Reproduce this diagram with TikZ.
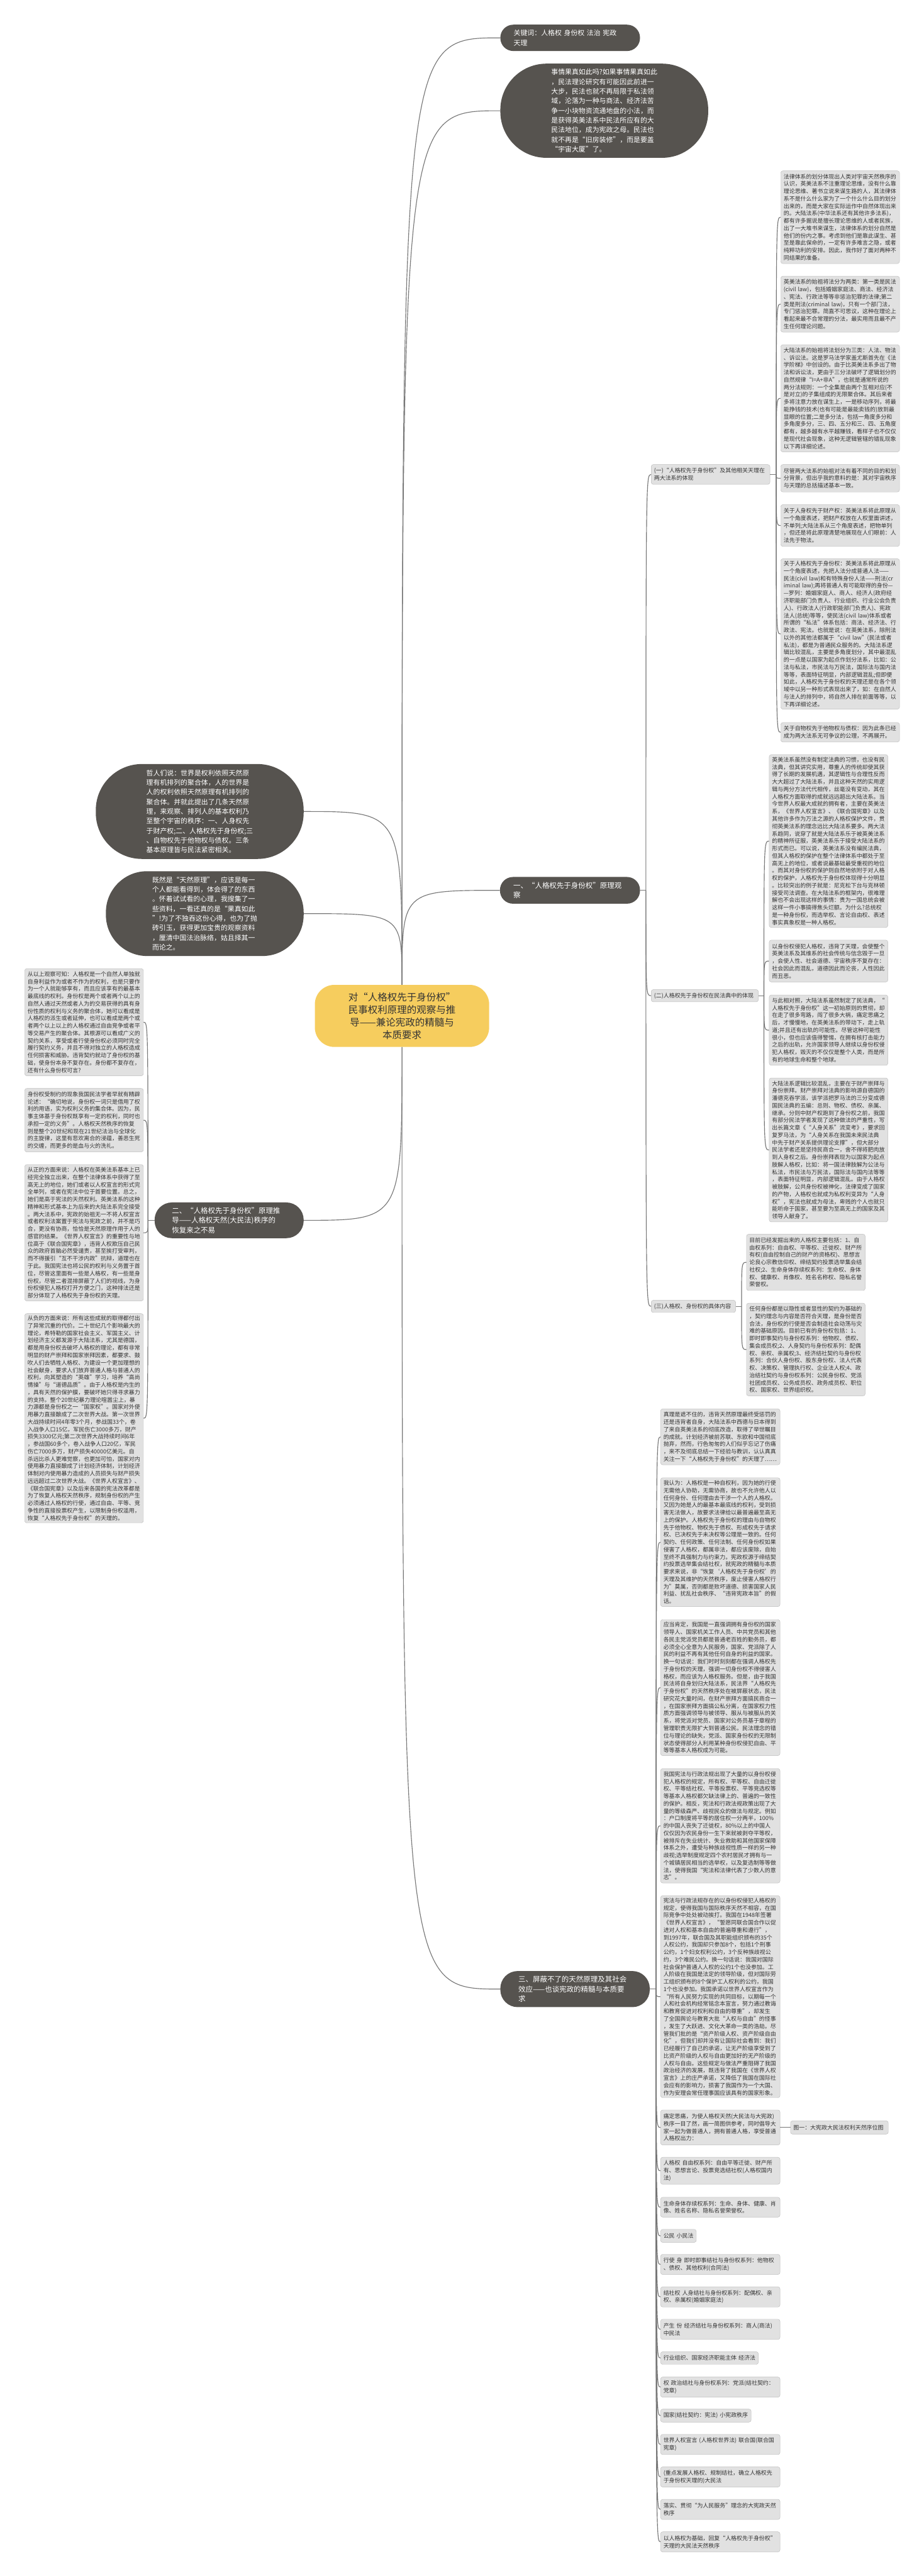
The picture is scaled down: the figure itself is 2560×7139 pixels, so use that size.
\documentclass[tikz,border=0pt]{standalone}
\usepackage{fontspec}
\setmainfont{Noto Sans CJK SC}
\definecolor{linec}{HTML}{777777}
\definecolor{boxfill}{HTML}{E1E1E1}
\definecolor{boxline}{HTML}{BDBDBD}
\definecolor{bubc}{HTML}{56534F}
\definecolor{cyel}{HTML}{F6CD5E}
\definecolor{txt}{HTML}{333333}
\tikzset{
  blk/.style={anchor=north west, rectangle, rounded corners=3pt, fill=boxfill, draw=boxline, line width=0.4pt,
    inner xsep=4pt, inner ysep=2pt, text width=156.5pt, align=left, text=txt,
    font=\fontsize{7.8pt}{10.25pt}\selectfont},
  bubble/.style={anchor=north west, rectangle, fill=bubc, text=white, align=left, inner sep=0pt,
    font=\fontsize{9.5pt}{13.35pt}\selectfont},
  branch/.style={anchor=north west, rectangle, fill=bubc, text=white, align=left,
    font=\fontsize{10pt}{13.5pt}\selectfont},
  conn/.style={draw=linec, line width=1pt},
}
\begin{document}
\begin{tikzpicture}[x=0.5pt,y=-0.5pt]
\useasboundingbox (0,0) rectangle (2560,7139);

% ---------- central ----------
\node[anchor=north west, rectangle, rounded corners=27pt, fill=cyel, text=txt, align=center,
  minimum width=241.5pt, minimum height=86pt, font=\fontsize{13.5pt}{17.5pt}\selectfont] (c) at (872,2729)
  {对“人格权先于身份权”\\民事权利原理的观察与推\\导——兼论宪政的精髓与\\本质要求};

% ---------- top ----------
\node[bubble, minimum width=193.5pt, minimum height=36.5pt, rounded corners=18pt, inner xsep=18.5pt, text width=156.5pt] (kw) at (1386,68)
  {关键词：人格权~身份权~法治~宪政\\天理};
\node[bubble, minimum width=288pt, minimum height=130.5pt, rounded corners=64pt] (b2) at (1386,176)
  {事情果真如此吗?如果事情果真如此\\
  ，民法理论研究有可能因此前进一\\
  大步，民法也就不再局限于私法领\\
  域，沦落为一种与商法、经济法苦\\
  争一小块物资流通地盘的小法，而\\
  是获得英美法系中民法所应有的大\\
  民法地位，成为宪政之母。民法也\\
  就不再是“旧房装修”，而是要盖\\
  “宇宙大厦”了。};

% ---------- left bubbles ----------
\node[bubble, minimum width=288pt, minimum height=131.5pt, rounded corners=64pt] (L1) at (265,2117)
  {哲人们说：世界是权利依照天然原\\
  理有机排列的聚合体，人的世界是\\
  人的权利依照天然原理有机排列的\\
  聚合体。并就此提出了几条天然原\\
  理，来观察、排列人的基本权利乃\\
  至整个宇宙的秩序：一、人身权先\\
  于财产权;二、人格权先于身份权;三\\
  、自物权先于他物权与债权。三条\\
  基本原理皆与民法紧密相关。};
\node[bubble, minimum width=274pt, minimum height=117.5pt, rounded corners=57pt] (L2) at (293,2414)
  {既然是“天然原理”，应该是每一\\
  个人都能看得到，体会得了的东西\\
  。怀着试试看的心理，我搜集了一\\
  些资料，一看还真的是“果真如此\\
  ”!为了不独吞这份心得，也为了抛\\
  砖引玉，获得更加宝贵的观察资料\\
  ，厘清中国法治脉络，姑且择其一\\
  而论之。};

% ---------- branches ----------
\node[branch, minimum width=194pt, minimum height=37pt, rounded corners=18pt, inner xsep=18.5pt, text width=157pt] (n1) at (1385,2430)
  {一、“人格权先于身份权”原理观\\察};
\node[branch, minimum width=206.5pt, minimum height=49.5pt, rounded corners=24pt, inner xsep=24pt, text width=158.5pt] (n2) at (428,3332)
  {二、“人格权先于身份权”原理推\\导——人格权天然(大民法)秩序的\\恢复来之不易};
\node[branch, minimum width=207pt, minimum height=50pt, rounded corners=24pt, inner xsep=25pt, text width=157pt] (n3) at (1386,5462)
  {三、屏蔽不了的天然原理及其社会\\效应——也谈宪政的精髓与本质要\\求};

% ---------- sub labels ----------
\node[blk, minimum height=27.5pt] (s1) at (1804,1287)
  {(一)“人格权先于身份权”及其他相关天理在\\两大法系的体现};
\node[blk, text width=140.5pt, minimum height=17pt] (s2) at (1804,2742)
  {(二)人格权先于身份权在民法典中的体现};
\node[blk, text width=109pt, minimum height=17pt] (s3) at (1804,3603)
  {(三)人格权、身份权的具体内容};

% ---------- (一) children ----------
\node[blk, minimum height=128.5pt] (rA) at (2163,473)
  {法律体系的划分体现出人类对宇宙天然秩序的\\
  认识，英美法系不注重理论思维，没有什么靠\\
  理论思维、著书立说来谋生路的人，其法律体\\
  系不是什么什么家为了一个什么什么目的划分\\
  出来的，而是大家在实际运作中自然体现出来\\
  的。大陆法系(中华法系还有其他许多法系)，\\
  都有许多据说是擅长理论思维的人或者民族，\\
  出了一大堆书来谋生，法律体系的划分自然是\\
  他们的份内之事。考虑到他们是靠此谋生、甚\\
  至是靠此保命的，一定有许多难言之隐，或者\\
  纯粹功利的安排。因此，我作好了面对两种不\\
  同结果的准备。};
\node[blk, minimum height=77.5pt] (rB) at (2163,765)
  {英美法系的始祖将法分为两类：第一类是民法\\
  (civil~law)，包括婚姻家庭法、商法、经济法\\
  、宪法、行政法等等非惩治犯罪的法律;第二\\
  类是刑法(criminal~law)，只有一个部门法，\\
  专门惩治犯罪。简直不可思议，这种在理论上\\
  看起来最不合常理的分法，最实用而且最不产\\
  生任何理论问题。};
\node[blk, minimum height=148.5pt] (rC) at (2163,955)
  {大陆法系的始祖将法划分为三类：人法、物法\\
  、诉讼法。这是罗马法学家盖尤斯首先在《法\\
  学阶梯》中创设的。由于比英美法系多出了物\\
  法和诉讼法，更由于三分法破坏了逻辑划分的\\
  自然规律“I=A+非A”，也就是通常所说的\\
  两分法规则：一个全集是由两个互相对应(不\\
  是对立)的子集组成的无限聚合体。其后来者\\
  多将注意力放在谋生上，一是移动序列，将最\\
  能挣钱的技术(也有可能是最能卖钱的)放到最\\
  显眼的位置;二是多分法，包括一角度多分和\\
  多角度多分，三、四、五分和三、四、五角度\\
  都有，越多越有水平越赚钱，看样子也不仅仅\\
  是现代社会现象，这种无逻辑管辖的错乱现象\\
  以下再详细论述。};
\node[blk, minimum height=38pt] (rD) at (2163,1287)
  {尽管两大法系的始祖对法有着不同的目的和划\\
  分背景，但出乎我的意料的是：其对宇宙秩序\\
  与天理的总括描述基本一致。};
\node[blk, minimum height=58pt] (rE) at (2163,1398)
  {关于人身权先于财产权：英美法系将此原理从\\
  一个角度表述，把财产权放在人权里面讲述，\\
  不单列;大陆法系从三个角度表述，把物单列\\
  ，但还是将此原理清楚地展现在人们眼前：人\\
  法先于物法。};
\node[blk, minimum height=208.5pt] (rF) at (2163,1548)
  {关于人格权先于身份权：英美法系将此原理从\\
  一个角度表述，先把人法分成普通人法——\\
  民法(civil~law)和有特殊身份人法——刑法(cr\\
  iminal~law);再将普通人有可能取得的身份—\\
  —罗列：婚姻家庭人、商人、经济人(政府经\\
  济职能部门负责人、行业组织、行业公会负责\\
  人)、行政法人(行政职能部门负责人)、宪政\\
  法人(总统)等等，使民法(civil~law)体系或者\\
  所谓的“私法”体系包括：商法、经济法、行\\
  政法、宪法。也就是说：在英美法系，除刑法\\
  以外的其他法都属于“civil~law”(民法或者\\
  私法)，都是为普通民众服务的。大陆法系逻\\
  辑比较混乱，主要是多角度划分，其中最混乱\\
  的一点是以国家为起点作划分法系，比如：公\\
  法与私法，市民法与万民法，国际法与国内法\\
  等等，表面特征明显，内部逻辑混乱;但即便\\
  如此，人格权先于身份权的天理还是在各个领\\
  域中以另一种形式表现出来了，如：在自然人\\
  与法人的排列中，将自然人排在前面等等，以\\
  下再详细论述。};
\node[blk, minimum height=27pt] (rG) at (2163,2002)
  {关于自物权先于他物权与债权：因为此条已经\\
  成为两大法系无可争议的公理，不再展开。};

% ---------- (二) children ----------
\node[blk, minimum height=239.5pt] (rH) at (2131,2091)
  {英美法系虽然没有制定法典的习惯，也没有民\\
  法典，但其讲究实用，尊重人的传统却使其获\\
  得了长期的发展机遇，其逻辑性与合理性反而\\
  大大超过了大陆法系，并且这种天然的实用逻\\
  辑与两分方法代代相传，丝毫没有变动，其在\\
  人格权方面取得的成就远远超出大陆法系。当\\
  今世界人权最大成就的拥有者，主要在英美法\\
  系，《世界人权宣言》、《联合国宪章》以及\\
  其他许多作为万法之源的人格权保护文件，贯\\
  彻英美法系的理念远比大陆法系要多。两大法\\
  系趋同，说穿了就是大陆法系乐于被英美法系\\
  的精神所征服，英美法系乐于接受大陆法系的\\
  形式而已。可以说，英美法系没有编民法典，\\
  但其人格权的保护在整个法律体系中都处于至\\
  高无上的地位，或者说最基础最受重视的地位\\
  。而其对身份权的保护则自然地依附于对人格\\
  权的保护，人格权先于身份权体现得十分明显\\
  。比较突出的例子就是：尼克松下台与克林顿\\
  接受司法调查。在大陆法系的框架内，很难理\\
  解也不会出现这样的事情：贵为一国总统会被\\
  这样一件小事搞得焦头烂额。为什么?总统权\\
  是一种身份权，而选举权、言论自由权、表述\\
  事实真象权是一种人格权。};
\node[blk, minimum height=58pt] (rI) at (2131,2605)
  {以身份权侵犯人格权，违背了天理，会使整个\\
  英美法系及其维系的社会传统与信念毁于一旦\\
  ，会使人性、社会道德、宇宙秩序不复存在：\\
  社会因此而混乱，道德因此而沦丧，人性因此\\
  而丑恶。};
\node[blk, minimum height=97.5pt] (rJ) at (2131,2757)
  {与此相对照，大陆法系虽然制定了民法典，“\\
  人格权先于身份权”这一初始原则的贯彻，却\\
  在走了很多弯路，闯了很多大祸，痛定思痛之\\
  后，才慢慢地，在英美法系的带动下，走上轨\\
  道;并且还有出轨的可能性。尽管这种可能性\\
  很小，但也应该值得警惕，在拥有核打击能力\\
  之后的出轨，允许国家领导人继续以身份权侵\\
  犯人格权，毁灭的不仅仅是整个人类，而是所\\
  有的地球生命和整个地球。};
\node[blk, minimum height=199.5pt] (rK) at (2131,2987)
  {大陆法系逻辑比较混乱，主要在于财产崇拜与\\
  身份崇拜。财产崇拜对法典的影响源自德国的\\
  潘德克吞学派，该学派把罗马法的三分变成德\\
  国民法典的五编：总则、物权、债权、亲属、\\
  继承。分则中财产权跑到了身份权之前，我国\\
  有部分民法学者发现了这种做法的严重性，写\\
  出长篇文章《“人身关系”流变考》，要求回\\
  复罗马法，为“人身关系在我国未来民法典\\
  中先于财产关系提供理论支撑”，但大部分\\
  民法学者还是坚持民商合一，舍不得将肥肉放\\
  到人身权之后。身份崇拜表现为以国家为起点\\
  肢解人格权，比如：将一国法律肢解为公法与\\
  私法，市民法与万民法，国际法与国内法等等\\
  ，表面特征明显，内部逻辑混乱。由于人格权\\
  被肢解，公共身份权被神化，法律变成了国家\\
  的产物，人格权也就成为私权利变异为“人身\\
  权”，宪法也就成为母法，卑贱的个人也就只\\
  能听命于国家，甚至要为至高无上的国家及其\\
  领导人献身了。};

% ---------- (三) children ----------
\node[blk, minimum height=78pt] (rL) at (2068,3420)
  {目前已经发掘出来的人格权主要包括：1、自\\
  由权系列：自由权、平等权、迁徙权、财产所\\
  有权(自由控制自己的财产的资格权)、思想言\\
  论良心宗教信仰权、缔结契约投票选举集会结\\
  社权;2、生命身体存续权系列：生命权、身体\\
  权、健康权、肖像权、姓名名称权、隐私名誉\\
  荣誉权。};
\node[blk, minimum height=128.5pt] (rM) at (2068,3611)
  {任何身份都是以隐性或者显性的契约为基础的\\
  ，契约理念与内容是否符合天理，是身份是否\\
  合法，身份权的行使是否会制造社会动荡与灾\\
  难的基础原因。目前已有的身份权包括：1、\\
  即时即事契约与身份权系列：他物权、债权、\\
  集会成员权;2、人身契约与身份权系列：配偶\\
  权、亲权、亲属权;3、经济结社契约与身份权\\
  系列：合伙人身份权、股东身份权、法人代表\\
  权、决策权、管理执行权、企业法人权;4、政\\
  治结社契约与身份权系列：公民身份权、党派\\
  社团成员权、公务成员权、政务成员权、职位\\
  权、国家权、世界组织权。};

% ---------- 二、 children (left) ----------
\node[blk, minimum height=148.5pt] (lK) at (68,2684)
  {从以上观察可知：人格权是一个自然人单独就\\
  自身利益作为或者不作为的权利，也是只要作\\
  为一个人就能够享有，而且应该享有的最基本\\
  最底线的权利。身份权是两个或者两个以上的\\
  自然人通过天然或者人为的交易获得的具有身\\
  份性质的权利与义务的聚合体，她可以看成是\\
  人格权的派生或者延伸，也可以看成是两个或\\
  者两个以上以上的人格权通过自由竞争或者平\\
  等交易产生的聚合体。其根源可以看成广义的\\
  契约关系，享受或者行使身份权必须同时完全\\
  履行契约义务，并且不得对独立的人格权造成\\
  任何损害和威胁。违背契约就动了身份权的基\\
  础，使身份本身不复存在。身份都不复存在，\\
  还有什么身份权可言?};
\node[blk, minimum height=88pt] (lL) at (68,3016)
  {身份权受制约的现象我国民法学者早就有精辟\\
  论述：“确切地说，身份权一词只是借用了权\\
  利的用语，实为权利义务的集合体。因为，民\\
  事主体基于身份权既享有一定的权利，同时也\\
  承担一定的义务”。人格权天然秩序的恢复\\
  则是整个20世纪和现在21世纪法治与全球化\\
  的主旋律，这里有悲欢离合的浸蕴，善恶生死\\
  的交缠，而更多的是血与火的洗礼。};
\node[blk, minimum height=189pt] (lM) at (68,3227)
  {从正的方面来说：人格权在英美法系基本上已\\
  经完全独立出来，在整个法律体系中获得了至\\
  高无上的地位，她们或者以人权宣言的形式完\\
  全单列，或者在宪法中位于首要位置。总之，\\
  她们是高于宪法的天然权利。英美法系的这种\\
  精神和形式基本上为后来的大陆法系完全接受\\
  。两大法系中，宪政的始祖无一不将人权宣言\\
  或者权利法案置于宪法与宪政之前，并不是巧\\
  合，更没有协商，恰恰是天然原理作用于人的\\
  感官的结果。《世界人权宣言》的重要性与地\\
  位高于《联合国宪章》，违背人权欺压自己民\\
  众的政府首脑必然受谴责，甚至挨打受审判，\\
  而不得援引“互不干涉内政”抗辩，道理也在\\
  于此。我国宪法也将公民的权利与义务置于首\\
  位，尽管这里面有一些是人格权，有一些是身\\
  份权，尽管二者混排屏蔽了人们的视线，为身\\
  份权侵犯人格权打开方便之门，这种排法还是\\
  部分体现了人格权先于身份权的天理。};
\node[blk, minimum height=290pt] (lN) at (68,3640)
  {从负的方面来说：所有这些成就的取得都付出\\
  了异常沉重的代价。二十世纪几个影响最大的\\
  理论，希特勒的国家社会主义、军国主义、计\\
  划经济主义都发源于大陆法系，尤其是德国，\\
  都是用身份权去破坏人格权的理论，都有非常\\
  明显的财产崇拜和国家崇拜因素，都要求、鼓\\
  吹人们去牺牲人格权、为建设一个更加理想的\\
  社会献身，要求人们放弃普通人格与普通人的\\
  权利，向其塑造的“英雄”学习，培养“高尚\\
  情操”与“道德品质”。由于人格权是内生的\\
  ，具有天然的保护膜，要破坏她只得寻求暴力\\
  的支持。整个20世纪暴力理论喧嚣尘上，暴\\
  力源都是身份权之一“国家权”。国家对外使\\
  用暴力直接酿成了二次世界大战。第一次世界\\
  大战持续时间4年零3个月，参战国33个，卷\\
  入战争人口15亿，军民伤亡3000多万，财产\\
  损失3300亿元;第二次世界大战持续时间6年\\
  ，参战国60多个，卷入战争人口20亿，军民\\
  伤亡7000多万，财产损失40000亿美元。自\\
  杀远比杀人更难觉察，也更加可怕，国家对内\\
  使用暴力直接酿成了计划经济体制，计划经济\\
  体制对内使用暴力造成的人员损失与财产损失\\
  远远超过二次世界大战。《世界人权宣言》、\\
  《联合国宪章》以及后来各国的宪法改革都是\\
  为了恢复人格权天然秩序，规制身份权的产生\\
  必须通过人格权的行使，通过自由、平等、竞\\
  争性的直接投票权产生，以限制身份权滥用，\\
  恢复“人格权先于身份权”的天理的。};

% ---------- 三、 children ----------
\node[blk, text width=157.5pt, minimum height=77.5pt] (tN) at (1830,3904)
  {真理是遮不住的，违背天然原理最终受惩罚的\\
  还是违背者自身，大陆法系中西德与日本得到\\
  了来自英美法系的彻底改造，取得了举世瞩目\\
  的成就。计划经济被前苏联、东欧和中国彻底\\
  抛弃，然而，行色匆匆的人们似乎忘记了伤痛\\
  ，来不及彻底总结一下经验与教训，认认真真\\
  关注一下“人格权先于身份权”的天理了……};
\node[blk, text width=157.5pt, minimum height=178.5pt] (tO) at (1830,4095)
  {我认为：人格权是一种自权利，因为她的行使\\
  无需他人协助，无需协商，故也不允许他人以\\
  任何身份、任何理由去干涉一个人的人格权。\\
  又因为她是人的最基本最底线的权利，受到损\\
  害无法做人，故要求法律给以最普遍最至高无\\
  上的保护。人格权先于身份权的理由与自物权\\
  先于他物权、物权先于债权、形成权先于请求\\
  权、已决权先于未决权等公理是一致的。任何\\
  契约、任何政策、任何法制、任何身份权如果\\
  侵害了人格权，都属非法，都应该废除，自始\\
  至终不具强制力与约束力。宪政权源于缔结契\\
  约投票选举集会结社权，就宪政的精髓与本质\\
  要求来说，非“恢复‘人格权先于身份权’的\\
  天理及其维护的天然秩序，废止侵害人格权行\\
  为”莫属，否则都是败坏道德、损害国家人民\\
  利益、扰乱社会秩序、“违背宪政本旨”的假\\
  话。};
\node[blk, text width=157.5pt, minimum height=188.5pt] (tP) at (1830,4488)
  {应当肯定，我国是一直强调拥有身份权的国家\\
  领导人、国家机关工作人员、中共党员和其他\\
  各民主党派党员都是普通老百姓的勤务员，都\\
  必须全心全意为人民服务，国家、党派除了人\\
  民的利益不再有其他任何自身的利益的国家。\\
  换一句话说：我们时时刻刻都在强调人格权先\\
  于身份权的天理，强调一切身份权不得侵害人\\
  格权，而应该为人格权服务。但是，由于我国\\
  民法将自身划归大陆法系，民法界“人格权先\\
  于身份权”的天然秩序处在被屏蔽状态，民法\\
  研究花大量时间，在财产崇拜方面搞民商合一\\
  ，在国家崇拜方面搞公私分离，在国家权力性\\
  质方面强调领导与被领导、服从与被服从的关\\
  系，将党派对党员、国家对公务员基于章程的\\
  管理职责无限扩大到普通公民。民法理念的错\\
  位与理论的缺失，党派、国家身份权的无限制\\
  状态使得部分人利用某种身份权侵犯自由、平\\
  等等基本人格权成为可能。};
\node[blk, text width=157.5pt, minimum height=158.5pt] (tQ) at (1830,4901)
  {我国宪法与行政法规出现了大量的以身份权侵\\
  犯人格权的规定，所有权、平等权、自由迁徙\\
  权、平等结社权、平等投票权、平等竞选权等\\
  等基本人格权都欠缺法律上的、普遍的一致性\\
  的保护。相反，宪法和行政法规政策出现了大\\
  量的等级森严、歧视民众的做法与规定。例如\\
  ：户口制度将平等的居住权一分两半，100\%\\
  的中国人丧失了迁徙权，80\%以上的中国人\\
  仅仅因为农民身份一生下来就被剥夺平等权，\\
  被排斥在失业统计、失业救助和其他国家保障\\
  体系之外，遭受与种族歧视性质一样的另一种\\
  歧视;选举制度规定四个农村居民才拥有与一\\
  个城镇居民相当的选举权，以及复选制等等做\\
  法，使得我国“宪法和法律代表了少数人的意\\
  志”。};
\node[blk, text width=157.5pt, minimum height=280pt] (tR) at (1830,5253)
  {宪法与行政法规存在的以身份权侵犯人格权的\\
  规定，使得我国与国际秩序天然不相容，在国\\
  际竞争中处处被动挨打。我国在1948年签署\\
  《世界人权宣言》，“誓愿同联合国合作以促\\
  进对人权和基本自由的普遍尊重和遵行”，\\
  到1997年，联合国及其职能组织颁布的35个\\
  人权公约，我国却只参加8个，包括1个刑事\\
  公约，1个妇女权利公约，3个反种族歧视公\\
  约，3个难民公约。换一句话说：我国对国际\\
  社会保护普通人人权的公约1个也没参加。工\\
  人阶级在我国是法定的领导阶级，但对国际劳\\
  工组织颁布的8个保护工人权利的公约，我国\\
  1个也没参加。我国承诺以世界人权宣言作为\\
  “所有人民努力实现的共同目标，以期每一个\\
  人和社会机构经常铭念本宣言，努力通过教诲\\
  和教育促进对权利和自由的尊重”，却发生\\
  了全国舆论与教育大批“人权与自由”的怪事\\
  ，发生了大跃进、文化大革命一类的浩劫。尽\\
  管我们批的是“资产阶级人权、资产阶级自由\\
  化”，但我们却并没有让国际社会看到：我们\\
  已经履行了自己的承诺，让无产阶级享受到了\\
  比资产阶级的人权与自由更加好的无产阶级的\\
  人权与自由。这些规定与做法严重阻碍了我国\\
  政治经济的发展，既违背了我国在《世界人权\\
  宣言》上的庄严承诺，又降低了我国在国际社\\
  会应有的影响力，损害了我国作为一个大国、\\
  作为安理会常任理事国应该具有的国家形象。};
\node[blk, text width=157.5pt, minimum height=48.5pt] (tS) at (1830,5847)
  {痛定思痛，为使人格权天然(大民法与大宪政)\\
  秩序一目了然，画一简图供参考，同时倡导大\\
  家一起为做普通人，拥有普通人格，享受普通\\
  人格权出力：};
\node[blk, text width=127.5pt, minimum height=18.5pt] (fig) at (2190,5877)
  {图一：大宪政大民法权利天然序位图};
\node[blk, text width=157.5pt, minimum height=37.5pt] (tT) at (1830,5978)
  {人格权~自由权系列：自由平等迁徙、财产所\\
  有、思想言论、投票竞选结社权(人格权国内\\
  法)};
\node[blk, text width=157.5pt, minimum height=27.5pt] (tU) at (1830,6089)
  {生命身体存续权系列：生命、身体、健康、肖\\
  像、姓名名称、隐私名誉荣誉权。};
\node[blk, text width=41.5pt, minimum height=18pt] (tV) at (1830,6178)
  {公民~小民法};
\node[blk, text width=157.5pt, minimum height=28pt] (w1) at (1830,6247)
  {行使~身~即时即事结社与身份权系列：他物权\\
  、债权、其他权利(合同法)};
\node[blk, text width=157.5pt, minimum height=28pt] (w2) at (1830,6337)
  {结社权~人身结社与身份权系列：配偶权、亲\\
  权、亲属权(婚姻家庭法)};
\node[blk, text width=157.5pt, minimum height=28pt] (w3) at (1830,6427)
  {产生~份~经济结社与身份权系列：商人(商法)\\
  中民法};
\node[blk, text width=127.5pt, minimum height=17.5pt] (w4) at (1830,6517)
  {行业组织、国家经济职能主体~经济法};
\node[blk, text width=157.5pt, minimum height=28pt] (w5) at (1830,6587)
  {权~政治结社与身份权系列：党派(结社契约：\\
  党章)};
\node[blk, text width=117.5pt, minimum height=18pt] (w6) at (1830,6676)
  {国家(结社契约：宪法)~小宪政秩序};
\node[blk, text width=157.5pt, minimum height=28pt] (w7) at (1830,6746)
  {世界人权宣言~(人格权世界法)~联合国(联合国\\
  宪章)};
\node[blk, text width=157.5pt, minimum height=28pt] (w8) at (1830,6836)
  {(重点发展人格权、规制结社，确立人格权先\\
  于身份权天理的)大民法};
\node[blk, text width=157.5pt, minimum height=28pt] (w9) at (1830,6926)
  {落实、贯彻“为人民服务”理念的大宪政天然\\
  秩序};
\node[blk, text width=157.5pt, minimum height=28pt] (w10) at (1830,7016)
  {以人格权为基础，回复“人格权先于身份权”\\
  天理的大民法天然秩序};

% ---------- connectors ----------
\draw[conn] (c.north) .. controls (c.north |- kw.west) .. (kw.west);
\draw[conn] (c.north) .. controls (c.north |- b2.west) .. (b2.west);
\draw[conn] (c.north) .. controls (c.north |- L1.east) .. (L1.east);
\draw[conn] (c.north) .. controls (c.north |- L2.east) .. (L2.east);
\draw[conn] (c.north) .. controls (c.north |- n1.west) .. (n1.west);
\draw[conn] (c.south) .. controls (c.south |- n2.east) .. (n2.east);
\draw[conn] (c.south) .. controls (c.south |- n3.west) .. (n3.west);

\path (n1.east) ++(16,0) coordinate (n1r);
\draw[conn] (n1.east) -- (n1r);
\foreach \m in {s1,s2,s3}
  \draw[conn] (n1r) .. controls (n1r |- \m.west) .. (\m.west);

\path (s1.east) ++(17,0) coordinate (s1r);
\draw[conn] (s1.east) -- (s1r);
\foreach \m in {rA,rB,rC,rD,rE,rF,rG}
  \draw[conn] (s1r) .. controls (s1r |- \m.west) .. (\m.west);

\path (s2.east) ++(15,0) coordinate (s2r);
\draw[conn] (s2.east) -- (s2r);
\foreach \m in {rH,rI,rJ,rK}
  \draw[conn] (s2r) .. controls (s2r |- \m.west) .. (\m.west);

\path (s3.east) ++(16,0) coordinate (s3r);
\draw[conn] (s3.east) -- (s3r);
\foreach \m in {rL,rM}
  \draw[conn] (s3r) .. controls (s3r |- \m.west) .. (\m.west);

\path (n2.west) ++(-18,0) coordinate (n2l);
\draw[conn] (n2.west) -- (n2l);
\foreach \m in {lK,lL,lM,lN}
  \draw[conn] (n2l) .. controls (n2l |- \m.east) .. (\m.east);

\path (n3.east) ++(17,0) coordinate (n3r);
\draw[conn] (n3.east) -- (n3r);
\foreach \m in {tN,tO,tP,tQ,tR,tS,tT,tU,tV,w1,w2,w3,w4,w5,w6,w7,w8,w9,w10}
  \draw[conn] (n3r) .. controls (n3r |- \m.west) .. (\m.west);

\draw[conn] (tS.east) -- (fig.west);
\end{tikzpicture}
\end{document}
